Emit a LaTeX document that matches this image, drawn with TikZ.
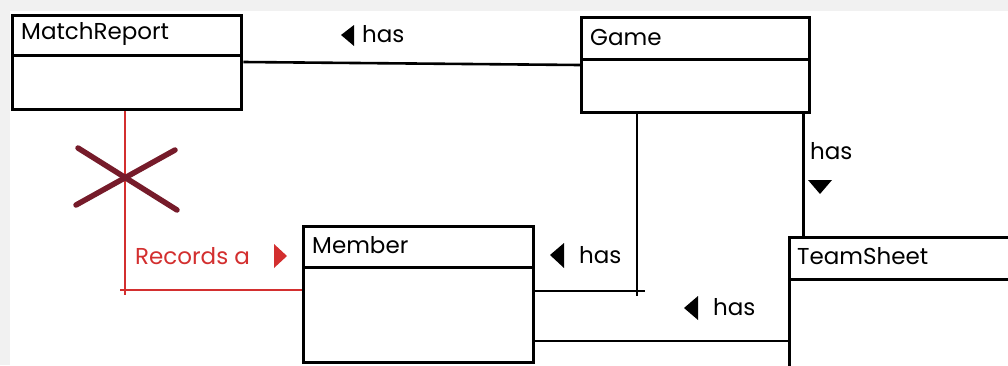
\documentclass[tikz,border=0pt]{standalone}
\usepackage{fontspec}
\setmainfont{Poppins}
\usetikzlibrary{positioning}
\definecolor{bgrey}{HTML}{F1F1F1}
\definecolor{relred}{HTML}{D32F2F}
\definecolor{xred}{HTML}{761B2A}
\tikzset{
  hdr/.style={draw=black, line width=3.4pt, fill=white, rectangle, anchor=north west, inner sep=0pt},
  txt/.style={font=\fontsize{23}{26}\selectfont, anchor=west, inner sep=0pt},
  conn/.style={draw=black, line width=2.6pt},
  rconn/.style={draw=relred, line width=2pt},
  tri/.style={fill=black},
}
\begin{document}
\begin{tikzpicture}[x=1pt,y=-1pt]
\useasboundingbox (0,0) rectangle (1008,365);
\clip (0,0) rectangle (1008,365);
\fill[bgrey] (0,0) rectangle (1008,365);
\fill[white] (10,11) rectangle (1008,365);

% MatchReport
\node[hdr, minimum width=229pt, minimum height=40pt] (mrh) at (11,14) {};
\node[hdr, minimum width=229pt, minimum height=54pt] (mrb) at (11,54) {};
\node[txt] (mrt) at (21,34) {MatchReport};
% Game
\node[hdr, minimum width=228pt, minimum height=42pt] (gh) at (580,16) {};
\node[hdr, minimum width=228pt, minimum height=53pt] (gb) at (580,58) {};
\node[txt] (gt) at (590,37) {Game};
% Member
\node[hdr, minimum width=230pt, minimum height=41pt] (mh) at (302,225) {};
\node[hdr, minimum width=230pt, minimum height=95pt] (mb) at (302,266) {};
\node[txt] (mt) at (312,245) {Member};
% TeamSheet
\node[hdr, minimum width=240pt, minimum height=42pt] (th) at (788,236) {};
\node[hdr, minimum width=240pt, minimum height=100pt] (tb) at (788,278) {};
\node[txt] (tt) at (797,256) {TeamSheet};

% connectors
\draw[conn] ([yshift=-8pt]mrb.north east) -- ([yshift=-7pt]gb.north west);
\draw[conn] ([xshift=57pt]gb.south west) -- ([xshift=57pt,yshift=-30pt]mb.north east -| gb.south west);
\draw[conn] ([yshift=-25pt]mb.north east) -- ++(110,0);
\draw[conn] ([xshift=-8pt]gb.south east) -- ([xshift=-8pt]gb.south east |- th.north);
\draw[conn] ([yshift=-75pt]mb.north east) -- ([yshift=-75pt]mb.north east -| tb.west);
\draw[rconn] ([xshift=114pt]mrb.south west) -- ++(0,184);
\draw[rconn] ([xshift=109pt,yshift=-24pt]mb.north west -| mrb.south west) -- ([yshift=-24pt]mb.north west);

% cross
\draw[xred, line width=5.5pt, line cap=round] (78,148) -- (177,210);
\draw[xred, line width=5.5pt, line cap=round] (76,205) -- (175,150);

% labels
\node[txt] (l1) at (362,34) {has};
\fill[tri] (341,35) -- (354,25) -- (354,46) -- cycle;
\node[txt] (l2) at (579,255) {has};
\fill[tri] (550,255) -- (564,243) -- (564,268) -- cycle;
\node[txt] (l3) at (713,307) {has};
\fill[tri] (684,308) -- (698,296) -- (698,320) -- cycle;
\node[txt] (l4) at (810,151) {has};
\fill[tri] (808,180) -- (832,180) -- (820,194) -- cycle;
\node[txt, text=relred] (l5) at (135,256) {Records a};
\fill[relred] (287,256) -- (274,244) -- (274,268) -- cycle;
\end{tikzpicture}
\end{document}
